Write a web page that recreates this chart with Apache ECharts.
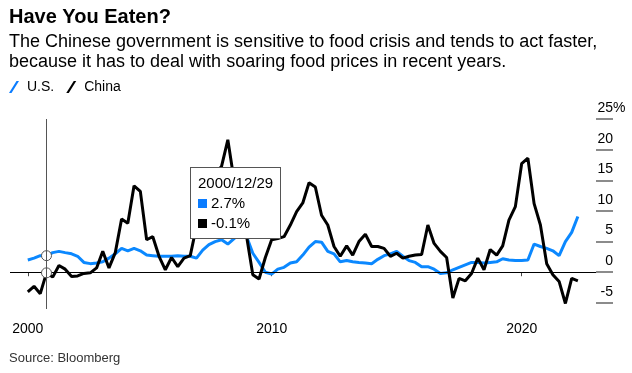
<!DOCTYPE html>
<html>
<head>
<meta charset="utf-8">
<script src="https://cdn.jsdelivr.net/npm/echarts@6/dist/echarts.min.js"></script>
<style>
html,body{margin:0;padding:0;background:#fff;}
#chart{width:632px;height:373px;}
</style>
</head>
<body>
<div id="chart"></div>
<script>
// ---- data (quarterly, quarter-end, 2000 Q1 .. 2022 Q1) ----
const startYear = 2000;
const chinaValues = [
  -3.2, -2.3, -3.5, -0.1,   -0.8, 1.1, 0.5, -0.7,   -0.6, -0.2, -0.1, 0.7,
  3.4, 0.7, 3.2, 8.7,       8.0, 14.1, 13.2, 5.3,   5.8, 2.6, 0.4, 2.4,
  0.9, 2.3, 2.7, 7.5,       7.1, 11.0, 16.0, 17.3,  21.6, 15.0, 9.7, 5.8,
  -0.4, -1.1, 2.4, 5.3,     5.5, 5.8, 7.7, 9.9,     11.3, 14.6, 13.9, 9.3,
  7.7, 4.2, 2.6, 4.3,       2.8, 5.0, 6.2, 4.2,     4.2, 3.9, 2.6, 3.1,
  2.3, 2.6, 2.8, 2.9,       7.7, 4.7, 3.4, 2.4,     -4.2, -1.0, -1.4, -0.2,
  2.3, 0.4, 3.7, 2.8,       4.3, 8.5, 10.7, 17.7,   18.6, 11.2, 7.7, 1.4,
  -0.4, -1.5, -5.1, -1.0,   -1.4
];
const usValues = [
  2.0, 2.3, 2.7, 2.7,       3.2, 3.4, 3.2, 3.0,     2.6, 1.6, 1.4, 1.5,
  1.7, 2.3, 3.0, 3.9,       3.5, 3.9, 3.5, 2.8,     2.7, 2.6, 2.6, 2.6,
  2.7, 2.6, 2.6, 2.3,       3.6, 4.5, 5.0, 5.3,     4.6, 5.5, 6.1, 5.8,
  3.1, 1.6, 0.0, -0.3,      0.5, 0.8, 1.5, 1.7,     2.8, 4.1, 5.0, 4.9,
  3.4, 3.0, 1.7, 1.9,       1.7, 1.6, 1.5, 1.4,     2.1, 2.7, 3.0, 3.4,
  2.6, 1.9, 1.6, 0.9,       0.9, 0.5, -0.2, -0.1,   0.4, 0.8, 1.2, 1.6,
  1.6, 1.5, 1.6, 1.7,       2.2, 2.0, 1.9, 1.9,     2.0, 4.6, 4.2, 3.9,
  3.5, 2.7, 5.0, 6.5,       9.1
];
const seriesNames = ['U.S.', 'China'];
const xTickYears = [2000, 2010, 2020];
const yTicks = [-5, 0, 5, 10, 15, 20, 25];
const highlightIndex = 3; // 2000/12/29

// quarter-end business days (timestamps)
const dates = usValues.map(function (_, k) {
  const y = startYear + Math.floor(k / 4);
  const m = 3 * (k % 4 + 1);
  const d = new Date(Date.UTC(y, m, 0));
  const wd = d.getUTCDay();
  if (wd === 6) d.setUTCDate(d.getUTCDate() - 1);
  if (wd === 0) d.setUTCDate(d.getUTCDate() - 2);
  return d.getTime();
});
function pad(n) { return (n < 10 ? '0' : '') + n; }
function fmtDate(t) {
  const d = new Date(t);
  return d.getUTCFullYear() + '/' + pad(d.getUTCMonth() + 1) + '/' + pad(d.getUTCDate());
}
const xTickValues = xTickYears.map(function (y, i) { return i === 0 ? dates[0] : Date.UTC(y, 0, 1); });

const BLUE = '#0a7cff';
const BLACK = '#000000';
const FONT = '"Liberation Sans", Arial, Helvetica, sans-serif';

const chart = echarts.init(document.getElementById('chart'), null, { renderer: 'canvas' });
const slash = 'path://M0,12 L2.5,12 L10,0 L7.5,0 Z';

chart.setOption({
  animation: false,
  backgroundColor: '#fff',
  textStyle: { fontFamily: FONT },
  title: [
    { text: 'Have You Eaten?', left: 9, top: 7, padding: 0,
      textStyle: { fontFamily: FONT, fontSize: 20, fontWeight: 'bold', color: '#000' } },
    { text: 'The Chinese government is sensitive to food crisis and tends to act faster,\nbecause it has to deal with soaring food prices in recent years.',
      left: 9, top: 32, padding: 0,
      textStyle: { fontFamily: FONT, fontSize: 18, fontWeight: 'normal', color: '#000', lineHeight: 20 } },
    { text: 'Source: Bloomberg', left: 9, top: 352, padding: 0,
      textStyle: { fontFamily: FONT, fontSize: 13, fontWeight: 'normal', color: '#333' } }
  ],
  legend: {
    left: 4, top: 75, itemWidth: 12, itemHeight: 12, itemGap: 12,
    data: [
      { name: seriesNames[0], icon: slash },
      { name: seriesNames[1], icon: slash }
    ],
    textStyle: { fontFamily: FONT, fontSize: 14, color: '#000', padding: [0, 0, 0, 2] }
  },
  grid: { left: 10, right: 36, top: 119, bottom: 64 },
  tooltip: {
    trigger: 'axis',
    triggerOn: 'none',
    alwaysShowContent: true,
    position: [190, 167],
    backgroundColor: '#fff',
    borderColor: '#555',
    borderWidth: 1,
    padding: [5, 7, 5, 7],
    extraCssText: 'box-shadow:none;border-radius:0;',
    axisPointer: { type: 'line', lineStyle: { color: '#555', width: 1, type: 'solid' }, label: { show: false } },
    formatter: function (params) {
      const idx = params[0].dataIndex;
      let html = '<div style="font-family:' + FONT.replace(/"/g, "'") + ';font-size:15px;line-height:20px;color:#000;">' + fmtDate(dates[idx]);
      params.forEach(function (p) {
        html += '<br><span style="display:inline-block;width:9px;height:9px;background:' + p.color + ';margin-right:4px;"></span>' + p.value[1].toFixed(1) + '%';
      });
      return html + '</div>';
    }
  },
  xAxis: {
    type: 'value',
    min: Date.UTC(1999, 6, 15),
    max: Date.UTC(2022, 11, 21),
    axisLine: { show: false },
    splitLine: { show: false },
    axisTick: { show: true, length: 4, customValues: xTickValues, lineStyle: { color: '#444', width: 1 } },
    axisLabel: {
      customValues: xTickValues,
      margin: 13,
      fontFamily: FONT, fontSize: 14, color: '#000',
      formatter: function (v) { return String(new Date(v).getUTCFullYear()); }
    }
  },
  yAxis: {
    type: 'value',
    position: 'right',
    min: -6, max: 25,
    axisLine: { show: false },
    splitLine: { show: false },
    axisTick: { show: true, inside: false, length: 17, customValues: yTicks, lineStyle: { color: '#666', width: 1.5 } },
    axisLabel: {
      customValues: yTicks,
      align: 'right', verticalAlign: 'bottom', margin: 17,
      padding: [0, 0, 4, 0],
      fontFamily: FONT, fontSize: 14, color: '#000'
    }
  },
  series: [
    {
      name: seriesNames[0], type: 'line', symbol: 'none',
      color: BLUE,
      lineStyle: { color: BLUE, width: 3 },
      data: dates.map(function (t, i) { return [t, usValues[i]]; }),
      markPoint: {
        symbol: 'circle', symbolSize: 10, silent: true,
        itemStyle: { color: '#fff', borderColor: '#555', borderWidth: 1 },
        label: { show: false },
        data: [{ coord: [dates[highlightIndex], usValues[highlightIndex]] }]
      },
      z: 2
    },
    {
      name: seriesNames[1], type: 'line', symbol: 'none',
      color: BLACK,
      lineStyle: { color: BLACK, width: 3 },
      data: dates.map(function (t, i) { return [t, chinaValues[i]]; }),
      markLine: {
        silent: true, symbol: 'none', label: { show: false },
        lineStyle: { color: '#000', width: 1, type: 'solid' },
        data: [{ yAxis: 0 }]
      },
      markPoint: {
        symbol: 'circle', symbolSize: 10, silent: true,
        itemStyle: { color: '#fff', borderColor: '#555', borderWidth: 1 },
        label: { show: false },
        data: [{ coord: [dates[highlightIndex], chinaValues[highlightIndex]] }]
      },
      z: 3
    }
  ]
});

// "%" suffix on the top tick label
const topY = chart.convertToPixel({ yAxisIndex: 0 }, yTicks[yTicks.length - 1]);
chart.setOption({
  graphic: [{
    type: 'text', x: 613, y: topY - 4,
    style: { text: '%', fontFamily: FONT, fontSize: 14, fill: '#000', align: 'left', verticalAlign: 'bottom' }
  }]
});

chart.dispatchAction({ type: 'showTip', seriesIndex: 0, dataIndex: highlightIndex });
</script>
</body>
</html>
